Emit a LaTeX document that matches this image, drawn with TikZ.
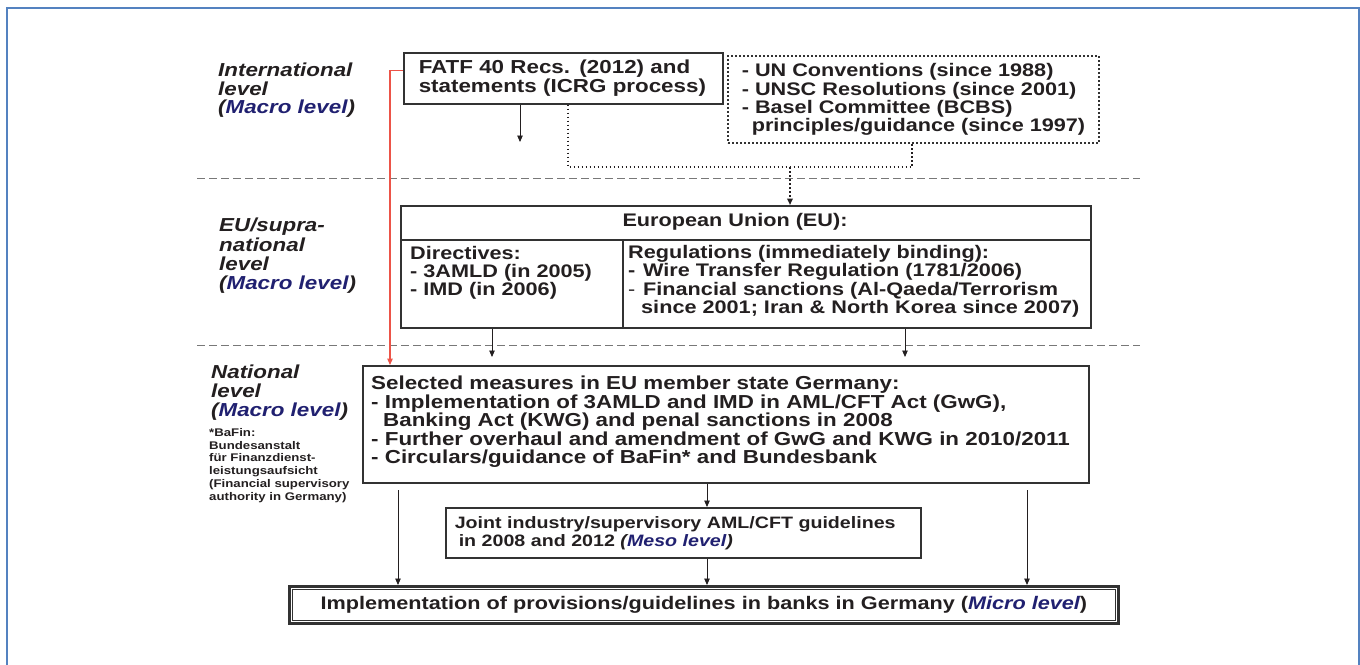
\documentclass[tikz,border=0pt]{standalone}
\usepackage{fontspec}
\setmainfont{Liberation Sans}[FakeStretch=1.19]
\usetikzlibrary{arrows.meta}
\definecolor{ink}{RGB}{35,31,32}
\definecolor{navy}{RGB}{32,32,112}
\definecolor{frameblue}{RGB}{84,130,192}
\definecolor{redln}{RGB}{236,84,72}
\definecolor{boxln}{RGB}{50,50,50}
\definecolor{sepgray}{RGB}{120,120,120}
\newcommand\fBig{\fontsize{18.8}{18.5}\selectfont\bfseries}
\newcommand\fMid{\fontsize{18.2}{18.3}\selectfont\bfseries}
\newcommand\fMes{\fontsize{16.5}{18}\selectfont\bfseries}
\newcommand\fSml{\fontsize{11.1}{12.8}\selectfont\bfseries}
\newcommand\nv[1]{\textcolor{navy}{#1}}
\begin{document}
\begin{tikzpicture}[x=1pt,y=-1pt,
  txt/.style={inner sep=0pt, align=left, anchor=north west, text=ink},
  lbl/.style={txt, font=\fBig\itshape},
  boxnode/.style={draw=boxln, line width=1.5pt, inner sep=0pt, anchor=north west, text=ink, align=left},
  dotbox/.style={boxnode, line width=2pt, dash pattern=on 1.8pt off 2.2pt},
  arr/.style={draw=ink, line width=0.9pt, -{Triangle[length=6.5pt,width=5.5pt]}},
  dotln/.style={draw=ink, line width=2pt, dash pattern=on 1.8pt off 2.2pt},
  sep/.style={draw=sepgray, line width=1pt, dash pattern=on 8pt off 4pt},
]
\useasboundingbox (0,0) rectangle (1360,664);
\draw[frameblue, line width=1.8pt] (7,666) -- (7,8) -- (1359,8) -- (1359,666);

\draw[sep] (197,178) -- (1140,178);
\draw[sep] (197,345) -- (1140,345);

\node[lbl] (intl) at (218,63.0) {International\\level\\(\nv{Macro level})};
\node[lbl, font=\fontsize{18.8}{19.3}\selectfont\bfseries\itshape] (eul) at (219,218.0) {EU/supra-\\national\\level\\(\nv{Macro level})};
\node[lbl, font=\fontsize{18.8}{19}\selectfont\bfseries\itshape] (natl) at (211,365.0) {National\\level\\(\nv{Macro level})};
\node[txt, font=\fSml] (bafin) at (209,428) {*BaFin:\\Bundesanstalt\\für Finanzdienst-\\leistungsaufsicht\\(Financial supervisory\\authority in Germany)};

\node[boxnode, font=\fBig, text width=289pt, inner xsep=15pt, minimum height=51pt] (fatf) at (403,52) {FATF 40 Recs. (2012) and\\statements (ICRG process)};
\node[dotbox, font=\fMid, minimum width=371pt, minimum height=87pt] (unb) at (727,55) {- UN Conventions (since 1988)\\- UNSC Resolutions (since 2001)\\- Basel Committee (BCBS)\\\hspace*{10pt}principles/guidance (since 1997)};

\node[boxnode, minimum width=690pt, minimum height=122pt] (eu) at (400,205) {};
\draw[boxln, line width=1.5pt] ([yshift=-35pt]eu.north west) -- ([yshift=-35pt]eu.north east);
\draw[boxln, line width=1.5pt] ([xshift=223pt,yshift=-35pt]eu.north west) -- ([xshift=223pt]eu.south west);
\node[txt, anchor=center, font=\fMid] (euh) at (735,222) {European Union (EU):};
\node[txt, font=\fontsize{18.2}{18}\selectfont\bfseries] (dir) at (410,246.2) {Directives:\\- 3AMLD (in 2005)\\- IMD (in 2006)};
\node[txt, font=\fMid] (reg) at (628,245.2) {Regulations (immediately binding):\\\makebox[15pt][l]{-}Wire Transfer Regulation (1781/2006)\\\makebox[15pt][l]{\mdseries-}Financial sanctions (Al-Qaeda/Terrorism\\\hspace*{13pt}since 2001; Iran \& North Korea since 2007)};

\node[boxnode, minimum width=726pt, minimum height=117pt] (nat) at (362,365) {};
\node[txt, font=\fontsize{18.8}{18}\selectfont\bfseries] (natt) at (371,376.0) {Selected measures in EU member state Germany:\\[1pt]- Implementation of 3AMLD and IMD in AML/CFT Act (GwG),\\\hspace*{12pt}Banking Act (KWG) and penal sanctions in 2008\\[0.5pt]- Further overhaul and amendment of GwG and KWG in 2010/2011\\- Circulars/guidance of BaFin* and Bundesbank};

\node[boxnode, font=\fMes, text width=457pt, inner xsep=9pt, minimum height=50pt] (meso) at (445,507) {Joint industry/supervisory AML/CFT guidelines\\\hspace*{4pt}in 2008 and 2012 \textit{(\nv{Meso level})}};
\node[boxnode, font=\fMid, line width=2.8pt, minimum width=829pt, minimum height=37pt, align=center] (micro) at (288,585) {Implementation of provisions/guidelines in banks in Germany (\textit{\nv{Micro level}})};
\draw[boxln, line width=0.9pt] ([shift={(4pt,-4pt)}]micro.north west) rectangle ([shift={(-4pt,4pt)}]micro.south east);

\coordinate (fa) at (520,142);
\draw[arr] (fatf.south -| fa) -- (fa);
\coordinate (d1) at (568,167);
\coordinate (d2) at (912,167);
\coordinate (d3) at (790,167);
\draw[dotln] (fatf.south -| d1) -- (d1) -- (d2) -- (d2 |- unb.south);
\draw[dotln, -{Triangle[length=6.5pt,width=5.5pt]}] (d3) -- (d3 |- eu.north);

\coordinate (rx) at (390,0);
\draw[redln, line width=1.2pt, -{Triangle[length=6.5pt,width=5.5pt]}] ([yshift=7.5pt]fatf.west) -| (rx |- nat.north);

\coordinate (el) at (492,357);
\coordinate (er) at (905,357);
\draw[arr] (eu.south -| el) -- (el);
\draw[arr] (eu.south -| er) -- (er);

\coordinate (mx) at (707,0);
\draw[arr] (nat.south -| mx) -- (meso.north -| mx);
\draw[arr] (meso.south -| mx) -- (micro.north -| mx);
\coordinate (ls) at (398,490);
\coordinate (rs) at (1027,490);
\draw[arr] (ls) -- (ls |- micro.north);
\draw[arr] (rs) -- (rs |- micro.north);
\end{tikzpicture}
\end{document}
